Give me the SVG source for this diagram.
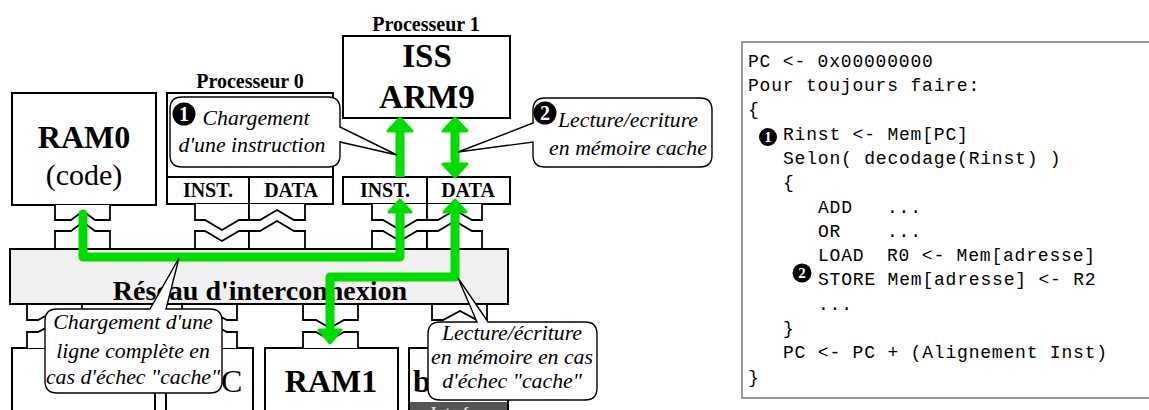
<svg xmlns="http://www.w3.org/2000/svg" width="1149" height="410" viewBox="0 0 1149 410">
<style>
.box{fill:#fff;stroke:#000;stroke-width:2}
.con{fill:#fff;stroke:#000;stroke-width:1.8;stroke-linejoin:miter}
.b{font-family:"Liberation Serif","Times New Roman",serif;font-weight:bold;fill:#000}
.r{font-family:"Liberation Serif","Times New Roman",serif;fill:#000}
.it{font-family:"Liberation Serif","DejaVu Serif",serif;font-style:italic;font-size:21.8px;fill:#000;text-anchor:middle}
.g{fill:none;stroke:#00dc00;stroke-width:9;stroke-linejoin:round}
.gh{fill:#00dc00;stroke:#00dc00;stroke-width:3;stroke-linejoin:round}
.call{fill:#fff;stroke:#000;stroke-width:1.4}
.badge{fill:#000}
.bt{font-family:"Liberation Serif",serif;font-weight:bold;fill:#fff;text-anchor:middle}
.code{font-family:"Liberation Mono",monospace;font-size:18px;letter-spacing:0.8px;fill:#000;white-space:pre}
.c{text-anchor:middle}
</style>
<rect width="1149" height="410" fill="#fff"/>

<g id="ram0">
<rect class="box" x="12" y="93" width="144" height="112"/>
<text class="b c" x="84" y="148" font-size="32">RAM0</text>
<text class="r c" x="84" y="185" font-size="30">(code)</text>
</g>

<g id="processeur0">
<text class="b c" x="250" y="88" font-size="20">Processeur 0</text>
<rect class="box" x="167" y="93" width="166" height="111"/>
<line x1="167" y1="177" x2="333" y2="177" stroke="#000" stroke-width="2"/>
<line x1="249" y1="177" x2="249" y2="204" stroke="#000" stroke-width="2"/>
<text class="b c" x="208" y="197" font-size="20">INST.</text>
<text class="b c" x="291" y="197" font-size="20">DATA</text>
</g>

<g id="processeur1">
<text class="b c" x="426" y="31" font-size="20">Processeur 1</text>
<rect class="box" x="343" y="36" width="167" height="82"/>
<text class="b c" x="427" y="67" font-size="33">ISS</text>
<text class="b c" x="427" y="108" font-size="33">ARM9</text>
<rect class="box" x="343" y="177" width="167" height="27"/>
<line x1="427" y1="177" x2="427" y2="204" stroke="#000" stroke-width="2"/>
<text class="b c" x="385" y="197" font-size="20">INST.</text>
<text class="b c" x="468" y="197" font-size="20">DATA</text>
</g>

<g id="box1">
<rect class="box" x="12" y="348" width="143" height="80"/>
</g>
<g id="box2">
<rect class="box" x="166" y="348" width="87" height="80"/>
<text class="r" x="221" y="392" font-size="32">C</text>
</g>
<g id="ram1">
<rect class="box" x="265" y="348" width="133" height="80"/>
<text class="b c" x="331" y="392" font-size="32">RAM1</text>
</g>
<g id="box4">
<rect class="box" x="409" y="348" width="99" height="80"/>
<text class="b" x="413" y="392" font-size="32">b</text>
<rect x="410" y="402" width="97" height="10" fill="#555"/>
<text class="b c" x="460" y="417" font-size="15" style="fill:#ddd">Interface</text>
</g>

<g id="connectors">
<path class="con" d="M55,205 V220 H71 L83,211 L95,220 H110 V205"/>
<path class="con" d="M55,249 V231 H71 L83,222 L95,231 H110 V249"/>
<path class="con" d="M195,204 V220 H205 L222,230 L239,220 H249 V204"/>
<path class="con" d="M195,249 V231 H205 L222,241 L239,231 H249 V249"/>
<path class="con" d="M249,204 V220 H260 L277,210 L294,220 H305 V204"/>
<path class="con" d="M249,249 V231 H260 L277,221 L294,231 H305 V249"/>
<path class="con" d="M372,204 V220 H383 L400,230 L417,220 H427 V204"/>
<path class="con" d="M372,249 V231 H383 L400,241 L417,231 H427 V249"/>
<path class="con" d="M427,204 V220 H438 L455,210 L472,220 H482 V204"/>
<path class="con" d="M427,249 V231 H438 L455,221 L472,231 H482 V249"/>
<path class="con" d="M27,304 V320 H38 L55,311 L72,320 H82 V304"/>
<path class="con" d="M27,348 V332 H38 L55,323 L72,332 H82 V348"/>
<path class="con" d="M182,304 V320 H193 L210,311 L227,320 H237 V304"/>
<path class="con" d="M182,348 V332 H193 L210,323 L227,332 H237 V348"/>
<path class="con" d="M303,304 V320 H316 L330,328 L344,320 H358 V304"/>
<path class="con" d="M303,348 V332 H316 L330,340 L344,332 H358 V348"/>
<path class="con" d="M432,304 V320 H443 L460,311 L477,320 H487 V304"/>
<path class="con" d="M432,348 V332 H443 L460,323 L477,332 H487 V348"/>
</g>

<g id="reseau">
<rect x="10" y="249" width="498" height="55" fill="#f0f0f0" stroke="#000" stroke-width="2"/>
<text class="b c" x="260" y="300" font-size="28">Réseau d'interconnexion</text>
</g>

<g id="flows">
<path class="g" d="M400,177 V131"/>
<polygon class="gh" points="388,131 400,118 412,131"/>
<path class="g" d="M455,131 V164"/>
<polygon class="gh" points="443,131 455,118 467,131"/>
<polygon class="gh" points="443,164 455,177 467,164"/>
<path class="g" d="M83,214 V257 H400 V212" stroke-linecap="round"/>
<polygon class="gh" points="389,212 400,200 411,212"/>
<path class="g" d="M330,330 V277 H455 V212"/>
<polygon class="gh" points="444,212 455,200 466,212"/>
<polygon class="gh" points="319,330 330,343 341,330"/>
</g>

<g id="callout1">
<path class="call" d="M182,97 H328 Q340,97 340,109 V127 L397,155 L340,142 V155 Q340,167 328,167 H182 Q170,167 170,155 V109 Q170,97 182,97 Z"/>
<circle class="badge" cx="184" cy="114" r="11.5"/>
<text class="bt" x="184" y="121" font-size="20">1</text>
<text class="it" x="256" y="125" font-style="italic">Chargement</text>
<text class="it" x="252" y="152" font-style="italic">d'une instruction</text>
</g>

<g id="callout2">
<path class="call" d="M545,98 H700 Q712,98 712,110 V155 Q712,167 700,167 H545 Q533,167 533,155 V142 L458,152 L533,123 V110 Q533,98 545,98 Z"/>
<circle class="badge" cx="545" cy="113" r="11.5"/>
<text class="bt" x="545" y="120" font-size="20">2</text>
<text class="it" x="628" y="127" font-style="italic">Lecture/ecriture</text>
<text class="it" x="628" y="155" font-style="italic">en mémoire cache</text>
</g>

<g id="callout3">
<path class="call" d="M57,309 H150 L179,258 L166,309 H210 Q222,309 222,321 V381 Q222,393 210,393 H57 Q45,393 45,381 V321 Q45,309 57,309 Z"/>
<text class="it" x="133" y="329" font-style="italic">Chargement d'une</text>
<text class="it" x="133" y="358" font-style="italic">ligne complète en</text>
<text class="it" x="133" y="384" font-style="italic">cas d'échec "cache"</text>
</g>

<g id="callout4">
<path class="call" d="M440,322 H477 L458,278 L488,322 H585 Q597,322 597,334 V388 Q597,400 585,400 H440 Q428,400 428,388 V334 Q428,322 440,322 Z"/>
<text class="it" x="512" y="340" font-style="italic">Lecture/écriture</text>
<text class="it" x="512" y="364" font-style="italic">en mémoire en cas</text>
<text class="it" x="512" y="388" font-style="italic">d'échec "cache"</text>
</g>

<g id="code">
<rect x="742" y="42" width="420" height="356" fill="#fff" stroke="#777" stroke-width="1.5"/>
<text class="code" x="748" y="67">PC &lt;- 0x00000000</text>
<text class="code" x="748" y="91">Pour toujours faire:</text>
<text class="code" x="748" y="115">{</text>
<circle class="badge" cx="768" cy="137" r="9"/>
<text class="bt" x="768" y="142" font-size="15">1</text>
<text class="code" x="783" y="140">Rinst &lt;- Mem[PC]</text>
<text class="code" x="783" y="164">Selon( decodage(Rinst) )</text>
<text class="code" x="783" y="188">{</text>
<text class="code" x="818" y="213">ADD<tspan x="887">...</tspan></text>
<text class="code" x="818" y="237">OR<tspan x="887">...</tspan></text>
<text class="code" x="818" y="261">LOAD<tspan x="887">R0 &lt;- Mem[adresse]</tspan></text>
<circle class="badge" cx="802" cy="273" r="9.5"/>
<text class="bt" x="802" y="278" font-size="15">2</text>
<text class="code" x="818" y="285">STORE Mem[adresse] &lt;- R2</text>
<text class="code" x="818" y="310">...</text>
<text class="code" x="783" y="334">}</text>
<text class="code" x="783" y="358">PC &lt;- PC + (Alignement Inst)</text>
<text class="code" x="748" y="383">}</text>
</g>
</svg>
